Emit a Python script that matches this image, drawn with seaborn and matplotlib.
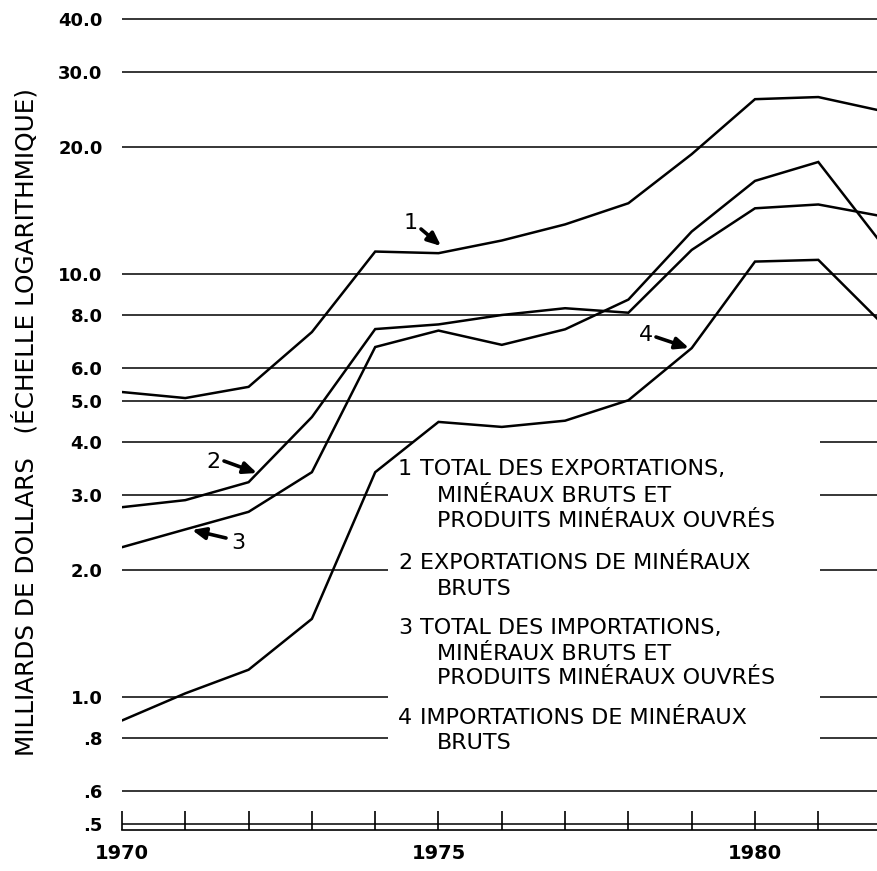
import numpy as np
import pandas as pd
import matplotlib
matplotlib.use("Agg")
import matplotlib.pyplot as plt
from matplotlib.patches import Rectangle
from matplotlib.ticker import FixedLocator, FixedFormatter, NullLocator
import seaborn as sns

years = list(range(1970, 1983))
total_exports = [5.26, 5.09, 5.41, 7.29, 11.3, 11.2, 12.0, 13.1, 14.7, 19.2, 25.9, 26.2, 24.3]
raw_exports = [2.81, 2.92, 3.22, 4.59, 7.41, 7.6, 8.0, 8.3, 8.1, 11.4, 14.3, 14.6, 13.7]
total_imports = [2.26, 2.49, 2.74, 3.40, 6.72, 7.35, 6.8, 7.4, 8.7, 12.6, 16.6, 18.4, 11.8]
raw_imports = [0.88, 1.02, 1.16, 1.53, 3.40, 4.47, 4.35, 4.5, 5.03, 6.68, 10.7, 10.8, 7.66]

series_names = ["1", "2", "3", "4"]
y_ticks = [0.5, 0.6, 0.8, 1, 2, 3, 4, 5, 6, 8, 10, 20, 30, 40]
y_tick_labels = [".5", ".6", ".8", "1.0", "2.0", "3.0", "4.0", "5.0", "6.0", "8.0",
                 "10.0", "20.0", "30.0", "40.0"]
x_major = [1970, 1975, 1980]
x_major_labels = ["1970", "1975", "1980"]

legend_lines = [
    ("1", "TOTAL DES EXPORTATIONS,", ["MINÉRAUX BRUTS ET", "PRODUITS MINÉRAUX OUVRÉS"]),
    ("2", "EXPORTATIONS DE MINÉRAUX", ["BRUTS"]),
    ("3", "TOTAL DES IMPORTATIONS,", ["MINÉRAUX BRUTS ET", "PRODUITS MINÉRAUX OUVRÉS"]),
    ("4", "IMPORTATIONS DE MINÉRAUX", ["BRUTS"]),
]
y_label = "MILLIARDS DE DOLLARS   (ÉCHELLE LOGARITHMIQUE)"

df = pd.DataFrame({
    "year": years * 4,
    "value": total_exports + raw_exports + total_imports + raw_imports,
    "series": sum([[n] * len(years) for n in series_names], []),
})

sns.set_style("white")
plt.rcParams["font.family"] = ["DejaVu Sans"]
plt.rcParams["text.color"] = "black"
plt.rcParams["xtick.color"] = "black"
plt.rcParams["ytick.color"] = "black"
plt.rcParams["axes.labelcolor"] = "black"

W, H = 878, 871
fig = plt.figure(figsize=(W / 100, H / 100), dpi=100)

ax_left, ax_right, ax_top, ax_bottom = 122, 878, 10, 830
ax = fig.add_axes([ax_left / W, 1 - ax_bottom / H, (ax_right - ax_left) / W, (ax_bottom - ax_top) / H])

px_per_year = 63.3
px_per_decade = 423.0
y_ref_px = 697.0  # pixel row of value 1.0
ax.set_yscale("log")
ax.set_xlim(1970, 1970 + (ax_right - ax_left) / px_per_year)
ax.set_ylim(10 ** ((y_ref_px - ax_bottom) / px_per_decade), 10 ** ((y_ref_px - ax_top) / px_per_decade))

sns.lineplot(data=df, x="year", y="value", hue="series", palette=["black"] * 4,
             legend=False, ax=ax, linewidth=1.8, zorder=3)
for a in ax.lines:
    a.set_solid_joinstyle("miter")

ax.set_axisbelow(True)
ax.yaxis.set_major_locator(FixedLocator(y_ticks))
ax.yaxis.set_major_formatter(FixedFormatter(y_tick_labels))
ax.yaxis.set_minor_locator(NullLocator())
ax.yaxis.grid(True, color="black", linewidth=1.1)
ax.xaxis.grid(False)

ax.xaxis.set_major_locator(FixedLocator(x_major))
ax.xaxis.set_major_formatter(FixedFormatter(x_major_labels))
ax.xaxis.set_minor_locator(FixedLocator(years))

for s in ["top", "right", "left"]:
    ax.spines[s].set_visible(False)
ax.spines["bottom"].set_linewidth(1.2)
ax.spines["bottom"].set_color("black")

ax.tick_params(axis="x", which="both", bottom=True, direction="in", length=14, width=1.2, color="black")
ax.tick_params(axis="x", which="major", pad=10, labelsize=14, labelcolor="black")
ax.tick_params(axis="y", which="both", left=False, length=0, pad=14, labelsize=13, labelcolor="black")
for lab in ax.get_xticklabels() + ax.get_yticklabels():
    lab.set_fontweight("bold")
ax.set_xlabel("")
ax.set_ylabel("")


def fx(px):
    return (px - ax_left) / (ax_right - ax_left)


def fy(py):
    return (ax_bottom - py) / (ax_bottom - ax_top)


# white masks where the gridlines are interrupted by the legend text
ax.add_patch(Rectangle((fx(388), fy(760)), fx(820) - fx(388), fy(450) - fy(760),
                       transform=ax.transAxes, facecolor="white", edgecolor="none", zorder=1))
ax.add_patch(Rectangle((fx(413), fy(450)), fx(820) - fx(413), fy(436) - fy(450),
                       transform=ax.transAxes, facecolor="white", edgecolor="none", zorder=1))

line_y = [469, 496, 521, 563, 589, 628, 654, 678, 718, 743]
fs_leg = 16
k = 0
for num, first, rest in legend_lines:
    fig.text(398 / W, 1 - line_y[k] / H, num, fontsize=fs_leg, va="center", ha="left", color="black")
    fig.text(420 / W, 1 - line_y[k] / H, first, fontsize=fs_leg, va="center", ha="left", color="black")
    k += 1
    for r in rest:
        fig.text(437 / W, 1 - line_y[k] / H, r, fontsize=fs_leg, va="center", ha="left", color="black")
        k += 1

fig.text(25 / W, 1 - 422 / H, y_label, rotation=90, fontsize=17.8, va="center", ha="center",
         color="black")


def data_pt(px, py):
    return (1970 + (px - ax_left) / px_per_year, 10 ** ((y_ref_px - py) / px_per_decade))


labels = [
    ("1", (411, 223), (421, 229), (441, 246)),
    ("2", (213, 462), (224, 461), (257, 473)),
    ("3", (238, 543), (226, 538), (192, 530)),
    ("4", (646, 335), (656, 337), (689, 348)),
]
for txt, tpos, tail, head in labels:
    ax.text(*data_pt(*tpos), txt, fontsize=16, ha="center", va="center", zorder=4, color="black")
    ax.annotate("", xy=data_pt(*head), xytext=data_pt(*tail),
                arrowprops=dict(arrowstyle="-|>,head_length=0.8,head_width=0.35",
                                color="black", lw=2.6, shrinkA=0, shrinkB=0),
                zorder=4)

fig.savefig("out.png", dpi=100)
